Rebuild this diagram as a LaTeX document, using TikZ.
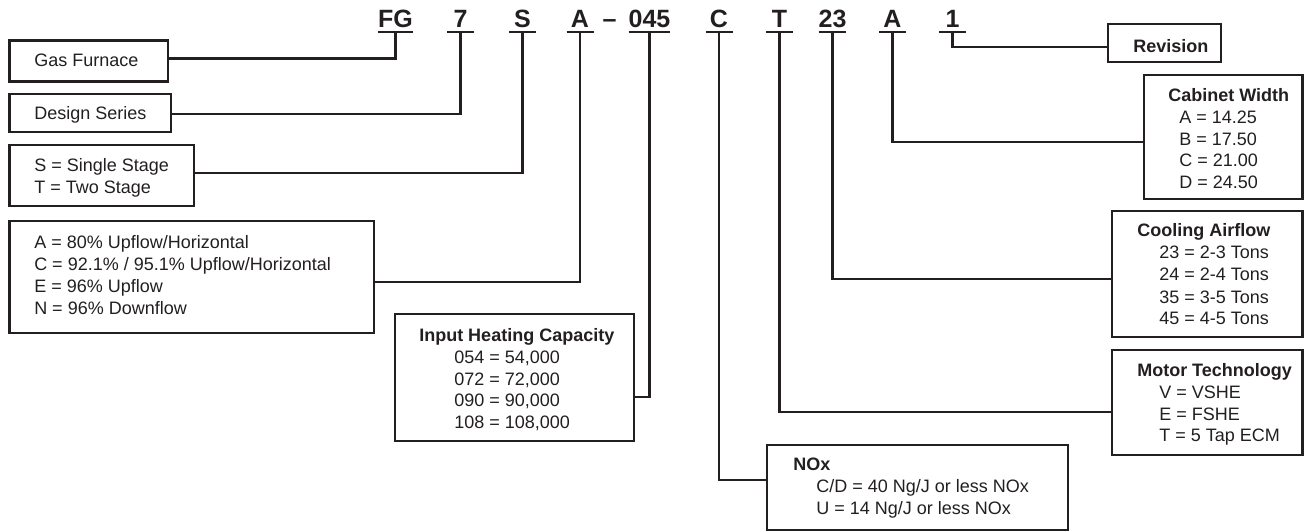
\documentclass[tikz,border=0pt]{standalone}
\usepackage{fontspec}
\setmainfont{Liberation Sans}
\definecolor{ink}{HTML}{231F20}
\newcommand\mkbox[5]{\node[box, minimum width={(#4-#2)*0.75pt}, minimum height={(#5-#3)*0.75pt}] (#1) at ({(#2+#4)/2},{(#3+#5)/2}) {};}
\begin{document}
\begin{tikzpicture}[x=0.75pt,y=-0.75pt,
  box/.style={draw=ink, line width=2pt, inner sep=0pt, outer sep=0pt},
  conn/.style={draw=ink, line width=1.7pt},
  ul/.style={draw=ink, line width=1.7pt},
  txt/.style={text=ink, font=\fontsize{13.5}{16}\selectfont, inner sep=0pt, anchor=base west},
  ttl/.style={txt, font=\fontsize{13.5}{16}\selectfont\bfseries},
  hdr/.style={text=ink, font=\fontsize{18.75}{22}\selectfont\bfseries, inner sep=0pt, outer sep=0pt, anchor=base, minimum width=20.25pt}]
\useasboundingbox (0,0) rectangle (1304,531);

% header code letters
\node[hdr] (hFG)  at (395.5,28) {FG};
\node[hdr] (h7)   at (460.5,28) {7};
\node[hdr] (hS)   at (522.5,28) {S};
\node[hdr] (hA)   at (580,28)   {A};
\node[hdr, minimum width=0pt] (hdash) at (609.5,28) {\char"2013};
\node[hdr] (h045) at (649.5,28) {045};
\node[hdr] (hC)   at (719,28)   {C};
\node[hdr] (hT)   at (779.5,28) {T};
\node[hdr] (h23)  at (832.5,28) {23};
\node[hdr] (hA2)  at (892.5,28) {A};
\node[hdr] (h1)   at (952.5,28) {1};
\foreach \n in {hFG,h7,hS,hA,h045,hC,hT,h23,hA2,h1}{
  \draw[ul] ([yshift=-2.8pt]\n.south west) -- ([yshift=-2.8pt]\n.south east);
  \coordinate (u\n) at ([yshift=-2.8pt]\n.south);
}

% boxes
\mkbox{gas}{9.5}{40.5}{168}{81.5}
\mkbox{des}{9.5}{94}{171}{132}
\mkbox{stg}{9.5}{145}{194}{206}
\mkbox{eff}{9.5}{221}{374}{333}
\mkbox{inp}{395}{314}{634}{441}
\mkbox{rev}{1108}{24}{1221}{62}
\mkbox{cab}{1144}{75}{1302.5}{199}
\mkbox{cool}{1112}{211}{1302.5}{337}
\mkbox{mot}{1112}{350}{1302.5}{455}
\mkbox{nox}{767}{445}{1068}{530}

% connector levels
\coordinate (yGas)  at (0,58.5);
\coordinate (yDes)  at (0,114);
\coordinate (yStg)  at (0,173);
\coordinate (yEff)  at (0,282);
\coordinate (yInp)  at (0,397);
\coordinate (yRev)  at (0,47);
\coordinate (yCab)  at (0,142);
\coordinate (yCool) at (0,279);
\coordinate (yMot)  at (0,412);
\coordinate (yNox)  at (0,480);

\draw[conn] (uhFG)  |- (gas.east |- yGas);
\draw[conn] (uh7)   |- (des.east |- yDes);
\draw[conn] (uhS)   |- (stg.east |- yStg);
\draw[conn] (uhA)   |- (eff.east |- yEff);
\draw[conn] (uh045) |- (inp.east |- yInp);
\draw[conn] (uhC)   |- (nox.west |- yNox);
\draw[conn] (uhT)   |- (mot.west |- yMot);
\draw[conn] (uh23)  |- (cool.west |- yCool);
\draw[conn] (uhA2)  |- (cab.west |- yCab);
\draw[conn] (uh1)   |- (rev.west |- yRev);

% texts
\node[txt] at (34,67) {Gas Furnace};
\node[txt] at (34,120) {Design Series};
\node[txt] at (34,172) {S = Single Stage};
\node[txt] at (34,193.7) {T = Two Stage};
\node[txt] at (34,249) {A = 80\% Upflow/Horizontal};
\node[txt] at (34,270.7) {C = 92.1\% / 95.1\% Upflow/Horizontal};
\node[txt] at (34,292.4) {E = 96\% Upflow};
\node[txt] at (34,314.1) {N = 96\% Downflow};

\node[ttl] at (419,341.6) {Input Heating Capacity};
\node[txt] at (454,363.3) {054 = 54,000};
\node[txt] at (454,385) {072 = 72,000};
\node[txt] at (454,406.7) {090 = 90,000};
\node[txt] at (454,428.4) {108 = 108,000};

\node[ttl] at (1133,52.5) {Revision};

\node[ttl] at (1168,101.7) {Cabinet Width};
\node[txt] at (1179,123.4) {A = 14.25};
\node[txt] at (1179,145.1) {B = 17.50};
\node[txt] at (1179,166.8) {C = 21.00};
\node[txt] at (1179,188.5) {D = 24.50};

\node[ttl] at (1137,237) {Cooling Airflow};
\node[txt] at (1159,259) {23 = 2-3 Tons};
\node[txt] at (1159,281) {24 = 2-4 Tons};
\node[txt] at (1159,303) {35 = 3-5 Tons};
\node[txt] at (1159,325) {45 = 4-5 Tons};

\node[ttl] at (1137,376.7) {Motor Technology};
\node[txt] at (1159,398.4) {V = VSHE};
\node[txt] at (1159,420.1) {E = FSHE};
\node[txt] at (1159,441.8) {T = 5 Tap ECM};

\node[ttl] at (793,470.7) {NOx};
\node[txt] at (816,492.5) {C/D = 40 Ng/J or less NOx};
\node[txt] at (816,514.3) {U = 14 Ng/J or less NOx};
\end{tikzpicture}
\end{document}
